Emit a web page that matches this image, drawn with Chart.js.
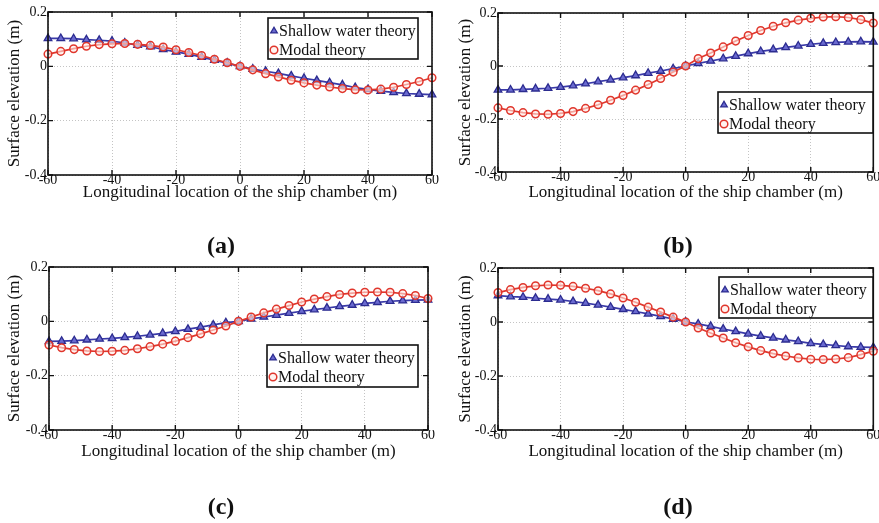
<!DOCTYPE html>
<html>
<head>
<meta charset="utf-8">
<script src="https://cdn.jsdelivr.net/npm/chart.js@4.4.1/dist/chart.umd.min.js"></script>
<style>
  html, body { margin: 0; padding: 0; background: #fff; }
  body { width: 879px; height: 523px; position: relative; overflow: hidden; }
  canvas { position: absolute; }
  .cap { position: absolute; font-family: "Liberation Serif", "Times New Roman", serif; font-weight: bold; font-size: 24px; color: #111; transform: translate(-50%, -50%); white-space: nowrap; }
</style>
</head>
<body>
<canvas id="ca" width="440" height="203" style="left:0px;top:0px"></canvas>
<canvas id="cb" width="439" height="203" style="left:440px;top:0px"></canvas>
<canvas id="cc" width="440" height="212" style="left:0px;top:250px"></canvas>
<canvas id="cd" width="439" height="212" style="left:440px;top:250px"></canvas>
<div class="cap" style="left:221px;top:245px">(a)</div>
<div class="cap" style="left:678px;top:245px">(b)</div>
<div class="cap" style="left:221px;top:506px">(c)</div>
<div class="cap" style="left:678px;top:506px">(d)</div>
<script>
// ---------- data ----------
const xPositions = [-60,-56,-52,-48,-44,-40,-36,-32,-28,-24,-20,-16,-12,-8,-4,0,4,8,12,16,20,24,28,32,36,40,44,48,52,56,60];
const xTicks = [-60,-40,-20,0,20,40,60];
const yTicks = [-0.4,-0.2,0,0.2];
const yTickLabels = ['-0.4','-0.2','0','0.2'];
const seriesNames = ['Shallow water theory','Modal theory'];
const xTitle = 'Longitudinal location of the ship chamber (m)';
const yTitle = 'Surface elevation (m)';

const shallowA = [0.103,0.103,0.102,0.098,0.096,0.093,0.086,0.078,0.072,0.062,0.053,0.045,0.034,0.023,0.012,0,-0.010,-0.018,-0.026,-0.035,-0.044,-0.052,-0.060,-0.068,-0.078,-0.085,-0.091,-0.096,-0.100,-0.102,-0.104];
const modalA   = [0.045,0.055,0.065,0.074,0.080,0.083,0.084,0.081,0.077,0.071,0.061,0.051,0.040,0.026,0.013,0,-0.013,-0.027,-0.039,-0.051,-0.061,-0.069,-0.076,-0.082,-0.086,-0.087,-0.084,-0.077,-0.067,-0.056,-0.042];

const shallowB = [-0.090,-0.090,-0.088,-0.086,-0.084,-0.080,-0.074,-0.067,-0.059,-0.052,-0.044,-0.036,-0.027,-0.019,-0.010,0,0.010,0.019,0.028,0.037,0.047,0.055,0.062,0.070,0.076,0.082,0.086,0.089,0.091,0.092,0.091];
const modalB   = [-0.158,-0.168,-0.176,-0.181,-0.182,-0.179,-0.172,-0.160,-0.146,-0.129,-0.111,-0.091,-0.070,-0.047,-0.023,0,0.028,0.049,0.072,0.094,0.115,0.134,0.150,0.163,0.173,0.180,0.185,0.186,0.183,0.175,0.162];

const shallowC = [-0.074,-0.073,-0.071,-0.068,-0.065,-0.063,-0.059,-0.055,-0.050,-0.044,-0.037,-0.029,-0.021,-0.013,-0.005,0,0.009,0.016,0.023,0.030,0.037,0.043,0.049,0.055,0.060,0.066,0.070,0.074,0.076,0.078,0.079];
const modalC   = [-0.087,-0.097,-0.104,-0.109,-0.111,-0.110,-0.107,-0.101,-0.093,-0.084,-0.073,-0.060,-0.046,-0.032,-0.017,0,0.016,0.031,0.045,0.058,0.071,0.082,0.091,0.099,0.104,0.107,0.108,0.107,0.102,0.095,0.084];

const shallowD = [0.098,0.094,0.092,0.088,0.085,0.082,0.076,0.070,0.063,0.055,0.047,0.039,0.030,0.021,0.011,0,-0.007,-0.016,-0.026,-0.035,-0.044,-0.052,-0.059,-0.066,-0.072,-0.079,-0.083,-0.087,-0.091,-0.093,-0.094];
const modalD   = [0.109,0.120,0.128,0.134,0.137,0.136,0.132,0.125,0.116,0.104,0.089,0.073,0.055,0.037,0.018,0,-0.022,-0.041,-0.059,-0.077,-0.092,-0.106,-0.117,-0.126,-0.133,-0.138,-0.139,-0.137,-0.132,-0.121,-0.108];

// ---------- styling ----------
const FONT = '"Liberation Serif", "Times New Roman", serif';
const TXT = '#111';
const BLUE_LINE = '#3a3aa8';
const BLUE_FILL = '#6a6ad0';
const BLUE_EDGE = '#2c2c90';
const RED = '#e0362c';

const framePlugin = {
  id: 'frame',
  afterDatasetsDraw(chart) {
    const {ctx, chartArea: a, scales} = chart;
    ctx.save();
    ctx.strokeStyle = '#111';
    ctx.lineWidth = 1.4;
    const L = 5;
    ctx.beginPath();
    scales.x.ticks.forEach(t => {
      const px = scales.x.getPixelForValue(t.value);
      ctx.moveTo(px, a.bottom); ctx.lineTo(px, a.bottom - L);
      ctx.moveTo(px, a.top); ctx.lineTo(px, a.top + L);
    });
    scales.y.ticks.forEach(t => {
      const py = scales.y.getPixelForValue(t.value);
      ctx.moveTo(a.left, py); ctx.lineTo(a.left + L, py);
      ctx.moveTo(a.right, py); ctx.lineTo(a.right - L, py);
    });
    ctx.stroke();
    ctx.lineWidth = 1.6;
    ctx.strokeRect(a.left, a.top, a.right - a.left, a.bottom - a.top);
    ctx.restore();
  }
};

const boxLegendPlugin = {
  id: 'boxLegend',
  afterDraw(chart, args, opts) {
    const {ctx} = chart;
    const {x, y, w, h} = opts;
    ctx.save();
    ctx.fillStyle = '#fff';
    ctx.fillRect(x, y, w, h);
    ctx.strokeStyle = '#111';
    ctx.lineWidth = 1.6;
    ctx.strokeRect(x, y, w, h);
    ctx.font = '16px ' + FONT;
    ctx.textBaseline = 'middle';
    chart.data.datasets.forEach((ds, i) => {
      const ry = y + 13 + i * 19;
      ctx.fillStyle = ds.pointBackgroundColor;
      ctx.strokeStyle = ds.pointBorderColor;
      ctx.lineWidth = ds.pointBorderWidth;
      Chart.helpers.drawPoint(ctx, {pointStyle: ds.pointStyle, rotation: 0, radius: 3.8, borderWidth: ds.pointBorderWidth}, x + 6, ry);
      ctx.fillStyle = TXT;
      ctx.fillText(ds.label, x + 11, ry + 1);
    });
    ctx.restore();
  }
};

function makeChart(id, shallow, modal, geom) {
  const toPts = arr => xPositions.map((xv, i) => ({x: xv, y: arr[i]}));
  return new Chart(document.getElementById(id), {
    type: 'scatter',
    data: {
      datasets: [
        {
          label: seriesNames[0], data: toPts(shallow), showLine: true,
          borderColor: BLUE_LINE, borderWidth: 1.7,
          pointStyle: 'triangle', pointRadius: 4.4,
          pointBackgroundColor: BLUE_FILL, pointBorderColor: BLUE_EDGE, pointBorderWidth: 1.3,
          clip: false, order: 2
        },
        {
          label: seriesNames[1], data: toPts(modal), showLine: true,
          borderColor: RED, borderWidth: 1.7,
          pointStyle: 'circle', pointRadius: 3.8,
          pointBackgroundColor: 'rgba(255,235,230,0.6)', pointBorderColor: RED, pointBorderWidth: 1.5,
          clip: false, order: 1
        }
      ]
    },
    options: {
      responsive: false, animation: false, devicePixelRatio: 1,
      layout: { padding: { left: geom.padLeft, right: geom.padRight, top: geom.padTop, bottom: 0 } },
      plugins: { legend: { display: false }, tooltip: { enabled: false }, boxLegend: geom.legend },
      scales: {
        x: {
          type: 'linear', min: -60, max: 60,
          afterBuildTicks: s => { s.ticks = xTicks.map(v => ({value: v})); },
          afterFit: s => { s.height = geom.xAxisH; },
          ticks: { color: TXT, font: { family: FONT, size: 14 }, padding: -3, maxRotation: 0,
                   callback: v => String(v) },
          grid: { color: '#c4c4c4', lineWidth: 1, drawTicks: false },
          border: { display: false, dash: [1, 2] },
          title: { display: true, text: xTitle, color: TXT, font: { family: FONT, size: 17 }, padding: 0 }
        },
        y: {
          type: 'linear', min: -0.4, max: 0.2,
          afterBuildTicks: s => { s.ticks = yTicks.map(v => ({value: v})); },
          afterFit: s => { s.width = geom.yAxisW; },
          ticks: { color: TXT, font: { family: FONT, size: 14 }, padding: 1,
                   callback: (v) => { const i = yTicks.findIndex(t => Math.abs(t - v) < 1e-9); return i >= 0 ? yTickLabels[i] : ''; } },
          grid: { color: '#c4c4c4', lineWidth: 1, drawTicks: false },
          border: { display: false, dash: [1, 2] },
          title: { display: true, text: yTitle, color: TXT, font: { family: FONT, size: 17 }, padding: 0 }
        }
      }
    },
    plugins: [framePlugin, boxLegendPlugin]
  });
}

makeChart('ca', shallowA, modalA, { padLeft: 4, padRight: 8, padTop: 12, xAxisH: 28, yAxisW: 44,
  legend: { x: 268, y: 18, w: 150, h: 41 } });
makeChart('cb', shallowB, modalB, { padLeft: 15, padRight: 3, padTop: 13, xAxisH: 31, yAxisW: 43,
  legend: { x: 278, y: 92, w: 155, h: 41 } });
makeChart('cc', shallowC, modalC, { padLeft: 4, padRight: 12, padTop: 17, xAxisH: 32, yAxisW: 45,
  legend: { x: 267, y: 95, w: 151, h: 42 } });
makeChart('cd', shallowD, modalD, { padLeft: 15, padRight: 2, padTop: 18, xAxisH: 32, yAxisW: 43,
  legend: { x: 279, y: 27, w: 154, h: 41 } });
</script>
</body>
</html>
